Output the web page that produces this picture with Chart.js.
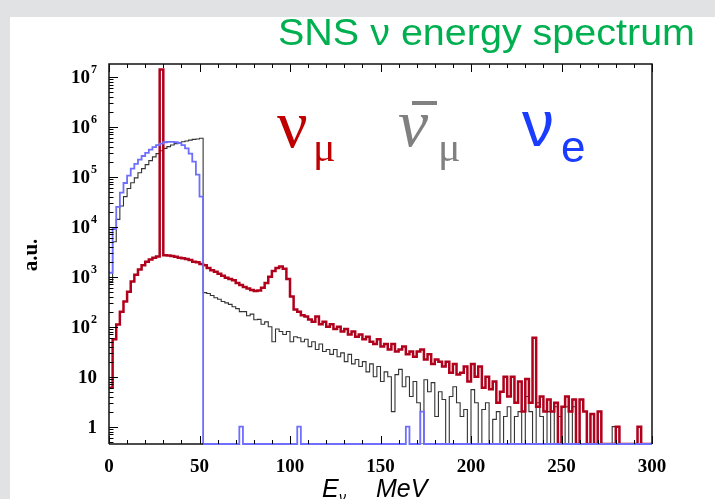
<!DOCTYPE html>
<html>
<head>
<meta charset="utf-8">
<script src="https://cdn.jsdelivr.net/npm/chart.js@4.4.0/dist/chart.umd.min.js"></script>
<style>
body { margin: 0; background: #e1e2e4; width: 715px; height: 499px; overflow: hidden; position: relative; }
#panel { position: absolute; left: 10px; top: 17px; width: 705px; height: 482px; background: #fff; }
#grafico { position: absolute; left: 0; top: 0; }
</style>
</head>
<body>
<div id="panel"></div>
<canvas id="grafico" width="715" height="499"></canvas>
<script>
// bins de 2 MeV, de 0 a 300
const binWidth = 2;
const energias = Array.from({ length: 150 }, (_, i) => i * binWidth);
const yMin = 0.45;
const yMax = 1.8e7;

// nu_mu (vermelho) - pico do decaimento do pion em ~30 MeV
const nuMu = [
  6, 56, 110, 200, 320, 500, 800, 1100, 1400, 1700,
  2000, 2200, 2400, 2550, 1.4e7, 2700, 2650, 2600, 2500, 2400,
  2350, 2250, 2150, 2000, 1950, 1800, 1700, 1500, 1350, 1250,
  1150, 1050, 950, 900, 850, 750, 680, 620, 580, 540,
  520, 530, 600, 750, 1000, 1300, 1500, 1600, 1450, 900,
  400, 220, 200, 170, 160, 140, 125, 160, 112, 125,
  100, 112, 90, 100, 80, 90, 70, 80, 63, 70,
  56, 63, 50, 45, 56, 40, 45, 35, 45, 32,
  35, 40, 28, 32, 25, 32, 35, 22, 28, 18,
  22, 20, 16, 20, 12, 18, 11, 12, 16, 8,
  18, 10, 16, 6, 10, 5.6, 8, 3, 5, 10,
  4, 10, 3, 8, 2, 9, 3, 60, 2.5, 4,
  2, 3.5, 2, 3, 0, 2.5, 4, 2, 3.5, 0,
  3.5, 2, 0, 1.8, 0, 2, 0, 0, 0, 0,
  1, 0, 0, 0, 0, 0, 1, 0, 0, 0
];

// anti nu_mu (preto)
const antiNuMu = [
  800, 5000, 14000, 26000, 40000, 58000, 76000, 95000, 120000, 145000,
  175000, 210000, 250000, 290000, 330000, 370000, 400000, 430000, 460000, 480000,
  500000, 520000, 540000, 560000, 570000, 590000, 480, 460, 420, 380,
  355, 320, 300, 280, 250, 230, 200, 200, 165, 178,
  138, 140, 112, 125, 100, 50, 90, 80, 70, 80,
  50, 63, 60, 50, 56, 40, 50, 35, 45, 32,
  35, 28, 35, 25, 30, 20, 28, 18, 22, 16,
  20, 12.5, 18, 10, 16, 8, 12.5, 10, 2, 11,
  14, 6.3, 10, 4, 8, 3, 0, 8.7, 5, 7.6,
  1.6, 5, 3.5, 0, 4, 6.3, 3, 1.6, 2.2, 0,
  5.5, 3, 0, 2.2, 3, 0, 1.4, 2, 0, 1.6,
  2.5, 0, 1.6, 2, 0, 4, 2, 0, 3, 1.6,
  0, 2, 0, 2.5, 1.6, 0, 2.5, 0, 2.5, 0,
  0, 0, 0, 0, 0, 0, 0, 0, 0, 1,
  0, 0, 0, 0, 0, 0, 0, 0, 0, 0
];

// nu_e (azul)
const nuE = [
  1200, 9000, 25000, 48000, 75000, 105000, 145000, 180000, 220000, 260000,
  300000, 350000, 390000, 430000, 460000, 490000, 500000, 500000, 490000, 470000,
  430000, 370000, 290000, 200000, 110000, 40000, 0, 0, 0, 0,
  0, 0, 0, 0, 0, 0, 1, 0, 0, 0,
  0, 0, 0, 0, 0, 0, 0, 0, 0, 0,
  0, 0, 1, 0, 0, 0, 0, 0, 0, 0,
  0, 0, 0, 0, 0, 0, 0, 0, 0, 0,
  0, 0, 0, 0, 0, 0, 0, 0, 0, 0,
  0, 0, 1, 0, 0, 0, 2, 0, 0, 0,
  0, 0, 0, 0, 0, 0, 0, 0, 0, 0,
  0, 0, 0, 0, 0, 0, 0, 0, 0, 0,
  0, 0, 0, 0, 0, 0, 0, 0, 0, 0,
  0, 0, 0, 0, 0, 0, 0, 0, 0, 0,
  0, 0, 0, 0, 0, 0, 0, 0, 0, 0,
  0, 0, 0, 0, 0, 0, 0, 0, 0, 0
];

const xTicks = [0, 50, 100, 150, 200, 250, 300];
const yExpoentes = [0, 1, 2, 3, 4, 5, 6, 7];

// transforma em pontos do histograma (borda esquerda + ponto final em 300)
// bins vazios ficam no piso do eixo log
function histo(valores) {
  let pts = energias.map((e, i) => ({ x: e, y: valores[i] > 0 ? valores[i] : yMin }));
  pts.push({ x: 300, y: pts[pts.length - 1].y });
  return pts;
}

function linha(ctx, x1, y1, x2, y2) {
  ctx.beginPath();
  ctx.moveTo(x1, y1);
  ctx.lineTo(x2, y2);
  ctx.stroke();
}

// eixos estilo ROOT, rótulos e textos
const decoracao = {
  id: 'decoracao',
  afterDatasetsDraw(chart) {
    const ctx = chart.ctx;
    const a = chart.chartArea;
    const x = chart.scales.x;
    const y = chart.scales.y;
    ctx.save();
    ctx.strokeStyle = '#000';
    ctx.lineWidth = 1;

    // ticks em x (baixo e cima)
    for (let e = 0; e <= 300; e += 10) {
      const px = Math.round(x.getPixelForValue(e)) + 0.5;
      const len = e % 50 === 0 ? 8 : 4;
      linha(ctx, px, a.bottom, px, a.bottom - len);
      linha(ctx, px, a.top, px, a.top + len);
    }
    // ticks em y (log)
    for (let k = -1; k <= 7; k++) {
      for (let m = 1; m <= 9; m++) {
        const v = m * Math.pow(10, k);
        if (v < y.min || v > y.max) continue;
        const py = Math.round(y.getPixelForValue(v)) + 0.5;
        linha(ctx, a.left, py, a.left + (m === 1 ? 9 : 4.5), py);
      }
    }
    // moldura (a base depois de 52 MeV fica com a linha azul, como no original)
    ctx.lineWidth = 1.5;
    ctx.strokeStyle = '#111';
    ctx.beginPath();
    ctx.moveTo(a.left, a.bottom);
    ctx.lineTo(a.left, a.top);
    ctx.lineTo(a.right, a.top);
    ctx.lineTo(a.right, a.bottom);
    ctx.stroke();
    linha(ctx, a.left, a.bottom, x.getPixelForValue(52), a.bottom);

    // rótulos do eixo y
    ctx.fillStyle = '#000';
    ctx.textBaseline = 'middle';
    ctx.textAlign = 'left';
    yExpoentes.forEach(k => {
      const py = y.getPixelForValue(Math.pow(10, k));
      const base = k === 0 ? '1' : '10';
      const exp = k > 1 ? String(k) : '';
      ctx.font = 'bold 19px "Liberation Serif"';
      const wb = ctx.measureText(base).width;
      ctx.font = 'bold 12px "Liberation Serif"';
      const we = exp ? ctx.measureText(exp).width + 1 : 0;
      const x0 = 97 - wb - we;
      ctx.font = 'bold 19px "Liberation Serif"';
      ctx.fillText(base, x0, py + 1);
      if (exp) {
        ctx.font = 'bold 12px "Liberation Serif"';
        ctx.fillText(exp, x0 + wb + 1, py - 7);
      }
    });

    // a.u.
    ctx.save();
    ctx.translate(32, 255);
    ctx.rotate(-Math.PI / 2);
    ctx.textAlign = 'center';
    ctx.font = 'bold 21px "Liberation Serif"';
    ctx.fillText('a.u.', 0, 0);
    ctx.restore();

    // título do eixo x
    ctx.textBaseline = 'alphabetic';
    ctx.font = 'italic 25px "Liberation Sans"';
    ctx.fillText('E', 322, 497);
    ctx.font = 'italic 14px "Liberation Sans"';
    ctx.fillText('ν', 339, 502);
    ctx.font = 'italic 25px "Liberation Sans"';
    ctx.fillText('MeV', 376, 497);

    // título
    const titulo = 'SNS ν energy spectrum';
    ctx.font = '36px "Liberation Sans"';
    ctx.fillStyle = '#00b050';
    const wt = ctx.measureText(titulo).width;
    ctx.save();
    ctx.translate(278, 45);
    ctx.scale(417 / wt, 1);
    ctx.fillText(titulo, 0, 0);
    ctx.restore();

    // nomes das séries
    ctx.fillStyle = '#c00000';
    ctx.font = '68px "Liberation Serif"';
    ctx.fillText('ν', 277, 147);
    ctx.font = '42px "Liberation Serif"';
    ctx.fillText('μ', 313, 161);

    ctx.fillStyle = '#808080';
    ctx.font = 'italic 68px "Liberation Serif"';
    ctx.fillText('ν', 398, 146);
    ctx.fillRect(412, 101, 25, 4);
    ctx.font = '42px "Liberation Serif"';
    ctx.fillText('μ', 438, 161);

    ctx.fillStyle = '#1a3cff';
    ctx.font = '64px "Liberation Sans"';
    ctx.fillText('ν', 522, 146);
    ctx.font = '44px "Liberation Sans"';
    ctx.fillText('e', 561, 162);

    ctx.restore();
  }
};

const ctx = document.getElementById('grafico').getContext('2d');
const chart = new Chart(ctx, {
  type: 'line',
  data: {
    datasets: [
      { label: 'nu_e', data: histo(nuE), borderColor: '#6e6eff', borderWidth: 1.8, stepped: true, order: 1, clip: 2 },
      { label: 'nu_mu', data: histo(nuMu), borderColor: '#b0001c', borderWidth: 2.5, stepped: true, order: 2 },
      { label: 'anti nu_mu', data: histo(antiNuMu), borderColor: '#333333', borderWidth: 1.1, stepped: true, order: 3 }
    ]
  },
  options: {
    responsive: false,
    animation: false,
    events: [],
    layout: { padding: { left: 0, right: 63, top: 64, bottom: 0 } },
    elements: { point: { radius: 0 }, line: { tension: 0, fill: false } },
    plugins: { legend: { display: false }, tooltip: { enabled: false } },
    scales: {
      x: {
        type: 'linear', min: 0, max: 300,
        grid: { display: false, drawTicks: false },
        border: { display: false },
        afterBuildTicks(s) { s.ticks = xTicks.map(v => ({ value: v })); },
        ticks: { padding: 12, color: '#000', font: { family: 'Liberation Serif', weight: 'bold', size: 19 } },
        afterFit(s) { s.height = 55; }
      },
      y: {
        type: 'logarithmic', min: yMin, max: yMax,
        grid: { display: false, drawTicks: false },
        border: { display: false },
        ticks: { display: false },
        afterFit(s) { s.width = 109; }
      }
    }
  },
  plugins: [decoracao]
});
</script>
</body>
</html>
